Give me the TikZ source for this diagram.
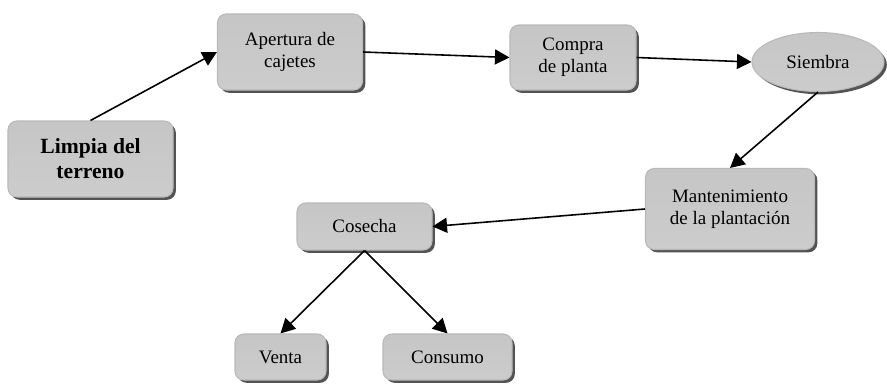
\documentclass[tikz,border=0pt]{standalone}
\usepackage{fontspec}
\setmainfont{Liberation Serif}
\usepackage{tikz}
\usetikzlibrary{arrows.meta, positioning, shapes.geometric, shadows}

\begin{document}
\begin{tikzpicture}[
            box/.style={draw=gray!55, line width=0.6pt, rounded corners=5pt,
                top color=gray!45, middle color=gray!18, bottom color=gray!40,
                align=center, inner sep=2pt,
                font=\fontsize{10.8}{12.5}\selectfont,
                drop shadow={shadow xshift=1.6pt, shadow yshift=-1.6pt, fill=gray!50!black, opacity=0.9}},
            box bold/.style={box, font=\fontsize{12.3}{14.2}\selectfont\bfseries},
            box oval/.style={box, ellipse, rounded corners=0pt},
            flow/.style={-{Triangle[length=2.9mm, width=3mm]}, line width=0.9pt}]

            \useasboundingbox (0,0) rectangle (17.74,-7.7);

            % process steps
            \node[box bold, minimum width=3.3cm, minimum height=1.52cm] (limpia) at (1.81,-3.18) {Limpia del\\terreno};
            \node[box, minimum width=2.9cm, minimum height=1.52cm] (apertura) at (5.8,-1.04) {Apertura de\\cajetes};
            \node[box, minimum width=2.52cm, minimum height=1.3cm] (compra) at (11.46,-1.15) {Compra\\de planta};
            \node[box oval, minimum width=2.64cm, minimum height=1.18cm] (siembra) at (16.36,-1.24) {Siembra};
            \node[box, minimum width=3.38cm, minimum height=1.62cm] (mant) at (14.6,-4.18) {Mantenimiento\\de la plantación};
            \node[box, minimum width=2.7cm, minimum height=0.94cm] (cosecha) at (7.29,-4.53) {Cosecha};
            \node[box, minimum width=1.82cm, minimum height=0.92cm] (venta) at (5.61,-7.14) {Venta};
            \node[box, minimum width=2.58cm, minimum height=0.92cm] (consumo) at (8.95,-7.14) {Consumo};

            % connectors
            \draw[flow] (limpia.north) -- (apertura.west);
            \draw[flow] (apertura.east) -- (compra.west);
            \draw[flow] (compra.east) -- (siembra.west);
            \draw[flow] (siembra.south) -- (mant.north);
            \draw[flow] (mant.west) -- (cosecha.east);
            \foreach \n in {venta, consumo} {
                \draw[flow] (cosecha.south) -- (\n.north);
            }
        \end{tikzpicture}
\end{document}
